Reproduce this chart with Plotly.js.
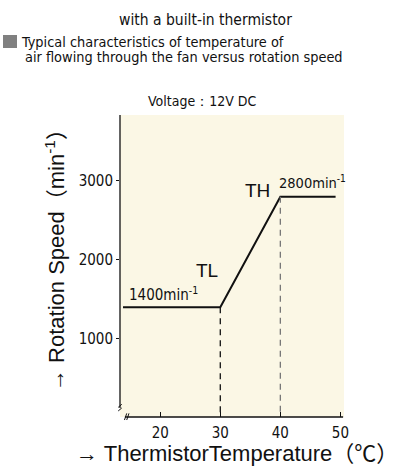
<!DOCTYPE html>
<html><head><meta charset="utf-8">
<script src="https://cdn.plot.ly/plotly-3.0.1.min.js"></script>
<style>html,body{margin:0;padding:0;background:#fff}#chart{width:411px;height:471px}</style>
</head><body><div id="chart"></div>
<script>
// Data
const tempC = [13.8, 30, 40, 49.2];          // thermistor temperature (°C)
const rpm   = [1400, 1400, 2800, 2800];      // rotation speed (min^-1)
const xTicks = [20, 30, 40, 50];
const yTicks = [1000, 2000, 3000];
const TL = 30, TH = 40;
const rpmLow = 1400, rpmHigh = 2800;
const xRange = [13.3, 50.6];
const yRange = [12, 3835];

const narrow = "Liberation Sans Narrow, DejaVu Sans Condensed, Arial Narrow, sans-serif";
const regular = "Liberation Sans, Noto Sans CJK JP, Arial, sans-serif";

const traces = [
  {x: tempC, y: rpm, mode: 'lines', line: {color: '#111', width: 2}, hoverinfo: 'skip'},
  {x: [TL, TL], y: [rpmLow, yRange[0]], mode: 'lines', line: {color: '#111', width: 1.3, dash: '6px,5px'}, hoverinfo: 'skip'},
  {x: [TH, TH], y: [rpmHigh, yRange[0]], mode: 'lines', line: {color: '#777', width: 1.3, dash: '6px,5px'}, hoverinfo: 'skip'}
];

const ann = (o) => Object.assign({showarrow: false, xref: 'paper', yref: 'paper', xanchor: 'center', yanchor: 'middle'}, o);

const layout = {
  width: 411, height: 471,
  margin: {l: 120, r: 67, t: 115, b: 54},
  paper_bgcolor: '#fff', plot_bgcolor: '#fbf7e5',
  showlegend: false,
  xaxis: {range: xRange, tickvals: xTicks, ticks: 'inside', ticklen: 5, tickcolor: '#111',
          ticklabelstandoff: 5,
          showgrid: false, zeroline: false, showline: false,
          tickfont: {family: narrow, size: 15, color: '#111'}},
  yaxis: {range: yRange, tickvals: yTicks, ticks: 'outside', ticklen: 3, tickcolor: '#111',
          showgrid: false, zeroline: false, showline: false,
          tickfont: {family: narrow, size: 15, color: '#111'}},
  shapes: [
    // axis lines with break
    {type: 'line', xref: 'paper', yref: 'paper', x0: 0, x1: 0, y0: 0.03, y1: 1, line: {color: '#111', width: 1.3}},
    {type: 'line', xref: 'paper', yref: 'paper', x0: 0.022, x1: 0.996, y0: 0, y1: 0, line: {color: '#111', width: 1.3}},
    // break marks y
    {type: 'line', xref: 'paper', yref: 'paper', x0: -0.008, x1: 0.008, y0: 0.032, y1: 0.042, line: {color: '#111', width: 1}},
    {type: 'line', xref: 'paper', yref: 'paper', x0: -0.008, x1: 0.008, y0: 0.02, y1: 0.03, line: {color: '#111', width: 1}},
    // break marks x
    {type: 'line', xref: 'paper', yref: 'paper', x0: 0.02, x1: 0.03, y0: -0.01, y1: 0.012, line: {color: '#111', width: 1}},
    {type: 'line', xref: 'paper', yref: 'paper', x0: 0.03, x1: 0.04, y0: -0.01, y1: 0.012, line: {color: '#111', width: 1}},
    // gray square bullet
    {type: 'rect', xref: 'paper', yref: 'paper', x0: (3-120)/224, x1: (17-120)/224, y0: (417-48)/302, y1: (417-35)/302,
     fillcolor: '#808080', line: {width: 0}}
  ],
  annotations: [
    ann({x: (205-120)/224, y: (417-20)/302, text: 'with a built-in thermistor', font: {family: narrow, size: 15.5, color: '#111'}}),
    ann({x: (19-120)/224, y: (417-42)/302, xanchor: 'left', text: 'Typical characteristics of temperature of', font: {family: narrow, size: 14.4, color: '#111'}}),
    ann({x: (23-120)/224, y: (417-57)/302, xanchor: 'left', text: 'air flowing through the fan versus rotation speed', font: {family: narrow, size: 14.4, color: '#111'}}),
    ann({x: (146-120)/224, y: (417-101)/302, xanchor: 'left', text: 'Voltage：12V DC', font: {family: narrow, size: 14, color: '#111'}}),
    ann({x: (55-120)/224, y: (417-255)/302, textangle: -90, text: '→ Rotation Speed（min<sup>-1</sup>）', font: {family: regular, size: 22, color: '#111'}}),
    ann({x: (237-120)/224, y: (417-453)/302, text: '→ ThermistorTemperature（℃）', font: {family: regular, size: 22, color: '#111'}}),
    // data labels
    {x: tempC[0], y: rpmLow, xref: 'x', yref: 'y', xanchor: 'left', yanchor: 'bottom', xshift: 4, yshift: 1, showarrow: false,
     text: rpmLow + 'min<sup>-1</sup>', font: {family: narrow, size: 15, color: '#111'}},
    {x: TL, y: rpmLow, xref: 'x', yref: 'y', xanchor: 'center', yanchor: 'bottom', xshift: -13, yshift: 24, showarrow: false,
     text: 'TL', font: {family: regular, size: 19, color: '#111'}},
    {x: TH, y: rpmHigh, xref: 'x', yref: 'y', xanchor: 'right', yanchor: 'bottom', xshift: -8, yshift: -6, showarrow: false,
     text: 'TH', font: {family: regular, size: 19, color: '#111'}},
    {x: TH, y: rpmHigh, xref: 'x', yref: 'y', xanchor: 'left', yanchor: 'bottom', xshift: -3, yshift: 4, showarrow: false,
     text: rpmHigh + 'min<sup>-1</sup>', font: {family: narrow, size: 14.5, color: '#111'}}
  ]
};

Plotly.newPlot('chart', traces, layout, {displayModeBar: false, staticPlot: true});
</script></body></html>
